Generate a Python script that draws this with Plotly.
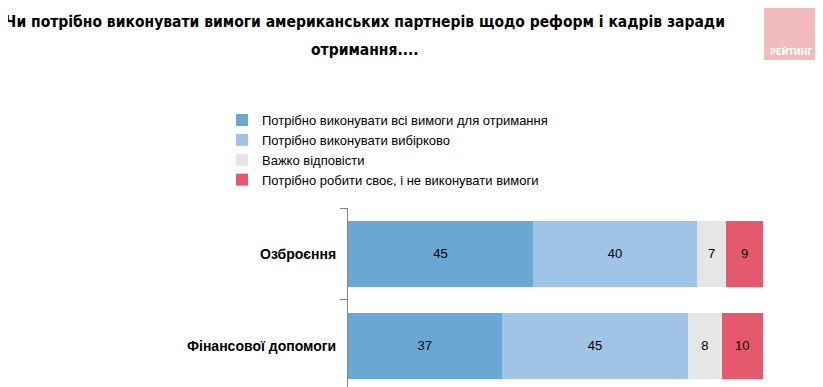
import plotly.graph_objects as go

categories = ["Фінансової допомоги", "Озброєння"]
series_names = [
    "Потрібно виконувати всі вимоги для отримання",
    "Потрібно виконувати вибірково",
    "Важко відповісти",
    "Потрібно робити своє, і не виконувати вимоги",
]
values_all = [37, 45]
values_selective = [45, 40]
values_hard = [8, 7]
values_own = [10, 9]
colors = ["#68a8d2", "#a0c3e6", "#e6e6e6", "#e6596c"]

series = [values_all, values_selective, values_hard, values_own]

# page has an 8px body margin; figure coordinates = screen coordinates - 8
OFF = 8
W, H = 823 - OFF, 387 - OFF
PL, PR, PT, PB = 348 - OFF, 763 - OFF, 208 - OFF, H

def px(x):
    return (x - OFF - PL) / (PR - PL)

def py(y):
    return (PB - (y - OFF)) / (PB - PT)

fig = go.Figure()
for name, vals, col in zip(series_names, series, colors):
    fig.add_trace(go.Bar(
        y=categories, x=vals, name=name, orientation="h",
        marker=dict(color=col, line=dict(width=0)),
        text=[str(v) for v in vals], textposition="inside",
        insidetextanchor="middle", textangle=0,
        textfont=dict(family="Liberation Sans, Arial", size=13, color="#000000"),
        hoverinfo="skip",
    ))

fig.update_layout(
    width=W, height=H,
    barmode="stack", barnorm="percent", bargap=0.28,
    paper_bgcolor="white", plot_bgcolor="white",
    margin=dict(l=PL, r=W - PR, t=PT, b=0, autoexpand=False),
    font=dict(family="Liberation Sans, Arial", color="#000000"),
    title=dict(
        text="Чи потрібно виконувати вимоги американських партнерів щодо реформ і кадрів заради",
        xref="container", yref="container",
        x=(365 - OFF) / W, xanchor="center", y=1 - (22 - OFF) / H, yanchor="middle",
        font=dict(family="DejaVu Sans Condensed, Liberation Sans", size=15.5, color="#000000",
                  weight="bold"),
    ),
    showlegend=True,
    legend=dict(
        xref="container", yref="container",
        x=(222 - OFF) / W, xanchor="left", y=1 - (105 - OFF) / H, yanchor="top",
        traceorder="normal", font=dict(size=13, family="Liberation Sans, Arial"),
        itemwidth=30, bgcolor="rgba(0,0,0,0)", tracegroupgap=0,
    ),
    xaxis=dict(range=[0, 100], visible=False, fixedrange=True),
    yaxis=dict(
        type="category", categoryorder="array", categoryarray=categories,
        range=[-0.446, 1.5], showline=True, linecolor="#888888", linewidth=1,
        ticks="outside", tickson="boundaries", ticklen=7, tickcolor="#888888",
        ticklabelstandoff=8,
        tickfont=dict(family="Liberation Sans, Arial", size=14, color="#000000", weight="bold"),
        showgrid=False, zeroline=False, automargin=False,
    ),
)

# second title line
fig.add_annotation(text="<b>отримання....</b>", xref="paper", yref="paper",
                   x=px(365), y=py(50), xanchor="center", yanchor="middle",
                   showarrow=False,
                   font=dict(family="DejaVu Sans Condensed, Liberation Sans", size=15.5, color="#000000"))

# logo box
fig.add_shape(type="rect", xref="paper", yref="paper",
              x0=px(764), x1=px(818), y0=py(60), y1=py(5),
              fillcolor="#f2bcbc", line=dict(width=0), layer="below")
fig.add_annotation(text="<b>РЕЙТИНГ</b>", xref="paper", yref="paper",
                   x=px(791), y=py(51), xanchor="center", yanchor="middle",
                   showarrow=False,
                   font=dict(family="DejaVu Sans Condensed, Liberation Sans", size=9, color="white"))

fig.write_html("out.html")
